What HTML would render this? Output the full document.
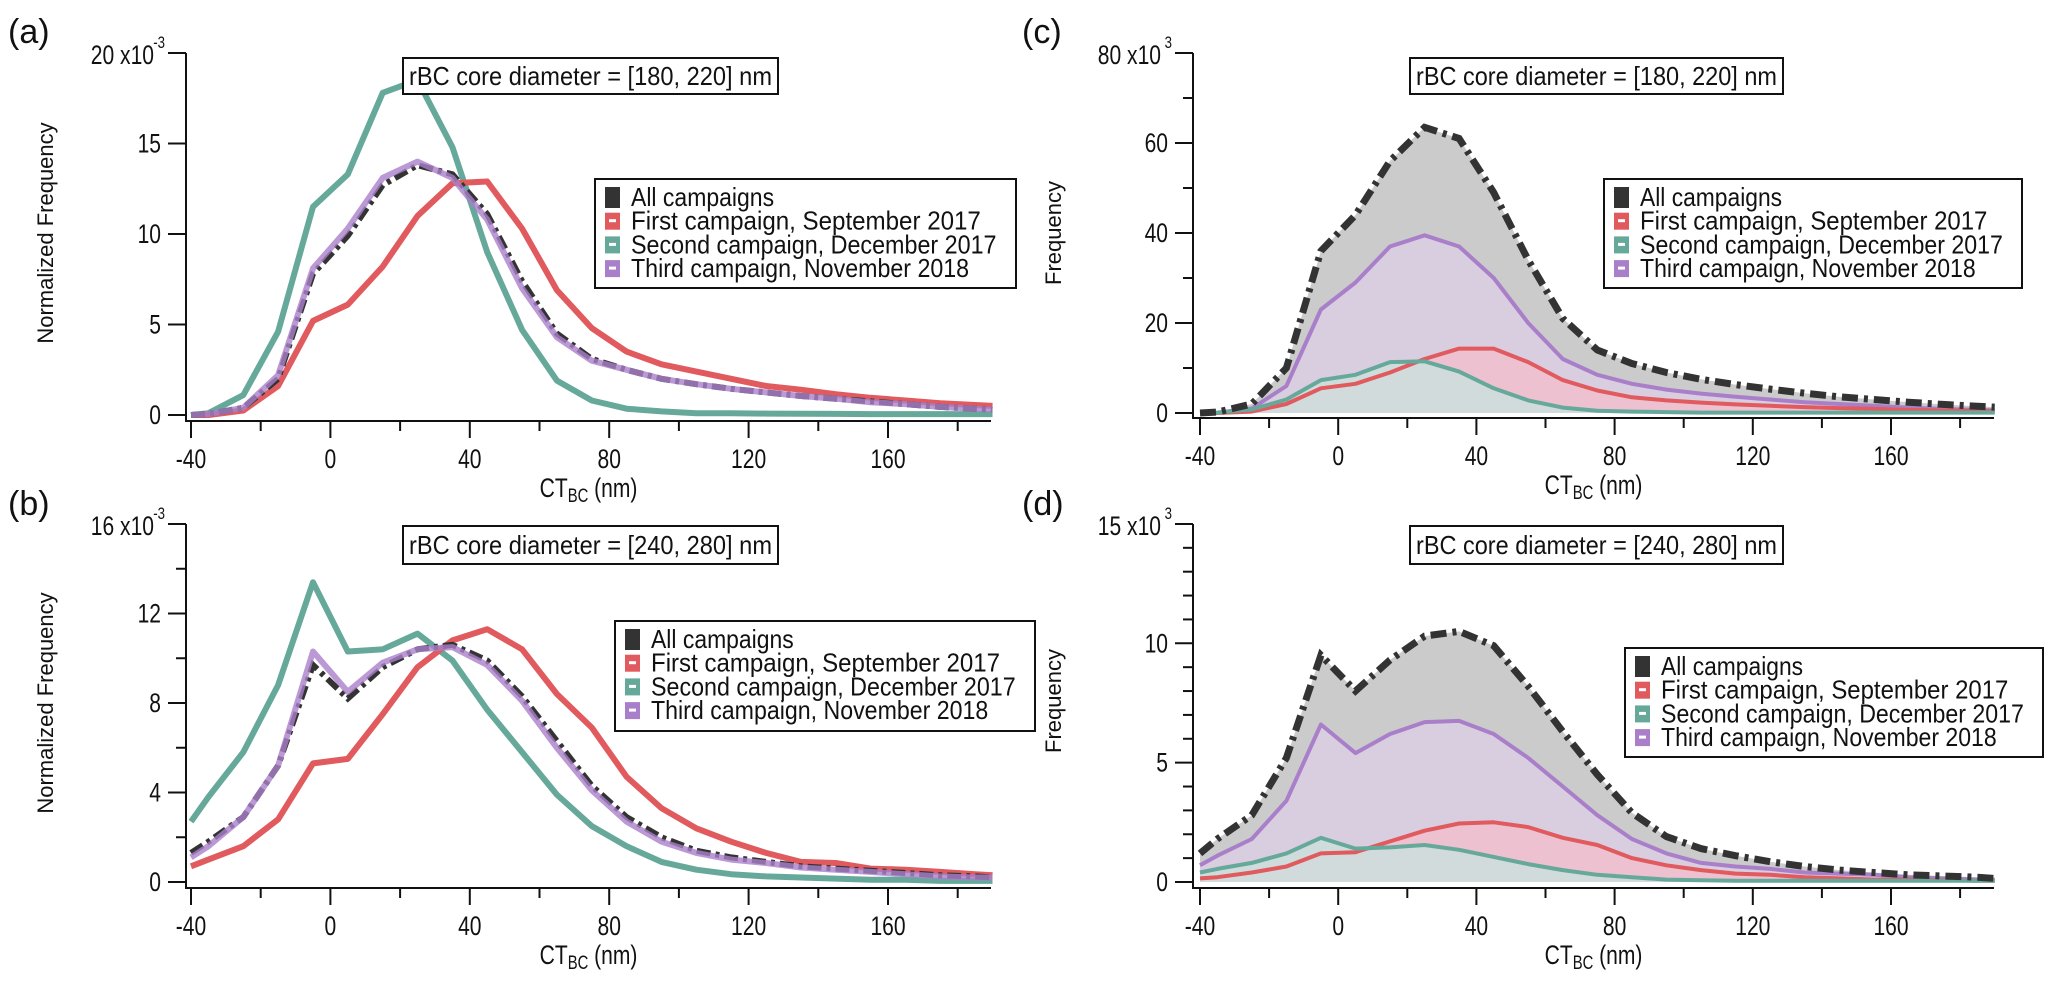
<!DOCTYPE html>
<html><head><meta charset="utf-8"><style>
html,body{margin:0;padding:0;background:#fff;}
svg{display:block;font-family:"Liberation Sans",sans-serif;}
</style></head><body>
<svg id="fig" width="2067" height="986" viewBox="0 0 2067 986" xmlns="http://www.w3.org/2000/svg"></svg>
<script>
const ctbc = [-40,-35,-25,-15,-5,5,15,25,35,45,55,65,75,85,95,105,115,125,135,145,155,165,175,185,190];
const xTicks = [-40,0,40,80,120,160];
const xMinor = [-20,20,60,100,140,180];
// panel a (x1e-3)
const aAll = [0,0.05,0.4,2.0,7.8,9.9,12.7,13.8,13.3,11.1,7.4,4.5,3.1,2.5,2.0,1.7,1.45,1.25,1.05,0.9,0.75,0.6,0.45,0.35,0.3];
const aFirst = [0,0,0.25,1.6,5.2,6.1,8.2,11.0,12.8,12.9,10.3,6.9,4.8,3.5,2.8,2.4,2.0,1.6,1.4,1.15,0.95,0.8,0.65,0.55,0.5];
const aSecond = [0,0.1,1.1,4.6,11.5,13.3,17.8,18.5,14.8,9.0,4.7,1.9,0.8,0.35,0.2,0.1,0.1,0.08,0.07,0.06,0.05,0.05,0.05,0.05,0.05];
const aThird = [0,0.05,0.4,2.2,8.1,10.3,13.1,14.0,13.1,10.8,7.0,4.3,3.0,2.5,2.0,1.7,1.45,1.25,1.05,0.9,0.7,0.6,0.45,0.35,0.3];
// panel b (x1e-3)
const bAll = [1.3,1.8,2.9,5.2,9.7,8.2,9.6,10.4,10.6,9.9,8.3,6.3,4.3,2.9,2.0,1.4,1.1,0.9,0.7,0.6,0.5,0.4,0.3,0.25,0.2];
const bFirst = [0.7,1.0,1.6,2.8,5.3,5.5,7.5,9.6,10.8,11.3,10.4,8.4,6.9,4.7,3.3,2.4,1.8,1.3,0.9,0.85,0.6,0.55,0.45,0.35,0.3];
const bSecond = [2.7,3.8,5.8,8.8,13.4,10.3,10.4,11.1,9.9,7.7,5.8,3.9,2.5,1.6,0.9,0.55,0.35,0.25,0.2,0.15,0.1,0.1,0.05,0.05,0.05];
const bThird = [1.1,1.6,2.9,5.2,10.3,8.5,9.8,10.4,10.5,9.7,8.1,6.0,4.1,2.7,1.8,1.3,1.0,0.85,0.65,0.55,0.45,0.35,0.25,0.2,0.2];
// panel c (x1e3)
const cAll = [0,0.2,2,10,36,44,56,63.5,61,49,34,21,14,11,9,7.5,6.3,5.3,4.4,3.6,3,2.4,1.9,1.5,1.3];
const cFirst = [0,0,0.3,2,5.5,6.5,9,12,14.3,14.3,11.3,7.3,5,3.5,2.8,2.3,1.9,1.6,1.3,1.1,0.9,0.7,0.55,0.45,0.4];
const cSecond = [0,0.1,0.8,3,7.3,8.5,11.3,11.5,9.2,5.5,2.8,1.2,0.5,0.3,0.2,0.1,0.1,0.1,0.1,0.1,0.1,0.1,0.1,0.1,0.1];
const cThird = [0,0.1,1,6,23,29,37,39.5,37,30,20,12,8.5,6.5,5.2,4.3,3.6,3.0,2.4,2,1.6,1.2,0.9,0.7,0.6];
// panel d (x1e3)
const dAll = [1.2,1.8,2.8,5.2,9.5,8.0,9.3,10.3,10.5,9.9,8.2,6.3,4.5,2.9,1.9,1.4,1.1,0.85,0.65,0.5,0.4,0.3,0.25,0.2,0.15];
const dFirst = [0.15,0.2,0.4,0.65,1.2,1.25,1.7,2.15,2.45,2.5,2.3,1.85,1.55,1.0,0.7,0.5,0.35,0.3,0.2,0.15,0.1,0.1,0.08,0.05,0.05];
const dSecond = [0.4,0.55,0.8,1.2,1.85,1.4,1.45,1.55,1.35,1.05,0.75,0.5,0.3,0.2,0.1,0.07,0.05,0.05,0.05,0.05,0.05,0.05,0.05,0.05,0.05];
const dThird = [0.7,1.1,1.8,3.4,6.6,5.4,6.2,6.7,6.75,6.2,5.2,4.0,2.8,1.8,1.2,0.8,0.65,0.55,0.4,0.35,0.3,0.2,0.15,0.1,0.1];
const legendLabels = ["All campaigns","First campaign, September 2017","Second campaign, December 2017","Third campaign, November 2018"];

const NS="http://www.w3.org/2000/svg";
const svg=document.getElementById('fig');
function mk(tag,attrs,parent){const e=document.createElementNS(NS,tag);for(const k in attrs)e.setAttribute(k,attrs[k]);(parent||svg).appendChild(e);return e;}

const COL={all:"#333333",first:"#e05a5e",second:"#66a99b",third:"#a97fca"};
const FILL={all:"#cbcbcb",first:"rgba(240,190,205,0.85)",second:"rgba(205,222,220,0.9)",third:"#d9cde0"};

const panels=[
 {id:"a",x0:191,xs:3.485,y0:415,ys:18.1,ymax:20,yMajor:[0,5,10,15],yMinor:[],topLbl:"20",exp:"-3",axisY:421,ylab:"Normalized Frequency",ylx:45,yly:233,
  series:{all:aAll,first:aFirst,second:aSecond,third:aThird},fill:false,title:"rBC core diameter = [180, 220] nm",tb:[403,58,375,36],lg:[595,179,421,109],pl:[8,43],axX:186,right:991},
 {id:"b",x0:191,xs:3.485,y0:882,ys:22.375,ymax:16,yMajor:[0,4,8,12],yMinor:[2,6,10,14],topLbl:"16",exp:"-3",axisY:888,ylab:"Normalized Frequency",ylx:45,yly:703,
  series:{all:bAll,first:bFirst,second:bSecond,third:bThird},fill:false,title:"rBC core diameter = [240, 280] nm",tb:[403,526,375,38],lg:[615,621,420,110],pl:[8,515],axX:186,right:991},
 {id:"c",x0:1200,xs:3.455,y0:413,ys:4.5,ymax:80,yMajor:[0,20,40,60],yMinor:[10,30,50,70],topLbl:"80",exp:"3",axisY:418,ylab:"Frequency",ylx:1053,yly:233,
  series:{all:cAll,first:cFirst,second:cSecond,third:cThird},fill:true,title:"rBC core diameter = [180, 220] nm",tb:[1410,58,373,36],lg:[1604,179,418,109],pl:[1022,43],axX:1193,right:1994},
 {id:"d",x0:1200,xs:3.455,y0:882,ys:23.87,ymax:15,yMajor:[0,5,10],yMinor:[1,2,3,4,6,7,8,9,11,12,13,14],topLbl:"15",exp:"3",axisY:888,ylab:"Frequency",ylx:1053,yly:701,
  series:{all:dAll,first:dFirst,second:dSecond,third:dThird},fill:true,title:"rBC core diameter = [240, 280] nm",tb:[1410,526,373,38],lg:[1625,648,418,109],pl:[1022,515],axX:1193,right:1994}
];

function narrowText(g,str,x,y,size,anchor,sx){
  const t=mk('text',{x:0,y:0,'font-size':size,'text-anchor':anchor||'start',transform:`translate(${x},${y}) scale(${sx||0.78},1)`,fill:'#111'},g);
  t.textContent=str;return t;
}

panels.forEach(p=>{
  const g=mk('g',{});
  
  
  const X=v=>p.x0+(v+40)*p.xs, Y=v=>p.y0-v*p.ys;
  const pl=mk('text',{x:p.pl[0],y:p.pl[1],'font-size':34,fill:'#111'},g);
  pl.textContent='('+p.id+')';
  
  
  const order=['all','third','first','second'];
  const plot=mk('g',{},g);
  
  
  const pts=arr=>arr.map((v,i)=>X(ctbc[i]).toFixed(1)+','+Y(v).toFixed(1)).join(' ');
  if(p.fill){
    order.forEach(k=>{
      const arr=p.series[k];
      const d='M'+X(ctbc[0])+','+Y(0)+' L'+pts(arr).split(' ').join(' L')+' L'+X(ctbc[ctbc.length-1])+','+Y(0)+' Z';
      const a=mk('path',{d:d,fill:FILL[k],stroke:'none'},plot);
      
      
    });
    ['third','first','second'].forEach(k=>{
      const l=mk('polyline',{points:pts(p.series[k]),fill:'none',stroke:COL[k],'stroke-width':4,'stroke-linejoin':'round'},plot);
      
      
    });
    const la=mk('polyline',{points:pts(p.series.all),fill:'none',stroke:COL.all,'stroke-width':7,'stroke-dasharray':'16,6,4,6'},plot);
    
    
  } else {
    ['second','first'].forEach(k=>{
      const l=mk('polyline',{points:pts(p.series[k]),fill:'none',stroke:COL[k],'stroke-width':6,'stroke-linejoin':'round'},plot);
      
      
    });
    const la=mk('polyline',{points:pts(p.series.all),fill:'none',stroke:COL.all,'stroke-width':6,'stroke-dasharray':'14,5,4,5'},plot);
    
    
    const lt=mk('polyline',{points:pts(p.series.third),fill:'none',stroke:COL.third,'stroke-width':6,'stroke-opacity':0.8,'stroke-linejoin':'round'},plot);
    
    
  }
  const ax=mk('g',{stroke:'#111','stroke-width':2},g);
  
  
  mk('line',{x1:p.axX,y1:Y(p.ymax),x2:p.axX,y2:p.axisY+1},ax);
  mk('line',{x1:p.axX,y1:p.axisY,x2:p.right,y2:p.axisY},ax);
  p.yMajor.concat([p.ymax]).forEach(v=>mk('line',{x1:p.axX-18,y1:Y(v),x2:p.axX,y2:Y(v)},ax));
  p.yMinor.forEach(v=>mk('line',{x1:p.axX-10,y1:Y(v),x2:p.axX,y2:Y(v)},ax));
  xTicks.forEach(v=>mk('line',{x1:X(v),y1:p.axisY,x2:X(v),y2:p.axisY+17},ax));
  xMinor.forEach(v=>mk('line',{x1:X(v),y1:p.axisY,x2:X(v),y2:p.axisY+10},ax));
  const tl=mk('g',{},g);
  
  
  p.yMajor.forEach(v=>narrowText(tl,String(v),p.axX-25,Y(v)+9,27,'end'));
  narrowText(tl,p.topLbl+' x10',p.axX-32,Y(p.ymax)+11,27,'end');
  narrowText(tl,p.exp,p.axX-21,Y(p.ymax)-5,17,'end');
  xTicks.forEach(v=>narrowText(tl,String(v),X(v),p.axisY+47,27,'middle'));
  const xl=mk('text',{x:0,y:0,'font-size':27,fill:'#111','text-anchor':'middle',transform:`translate(${(p.axX+p.right)/2},${p.axisY+76}) scale(0.78,1)`},g);
  
  
  xl.innerHTML='CT<tspan font-size="19" dy="5">BC</tspan><tspan dy="-5"> (nm)</tspan>';
  const yl=mk('text',{x:0,y:0,'font-size':22,fill:'#111','text-anchor':'middle',transform:`translate(${p.ylx+8},${p.yly}) rotate(-90)`},g);
  yl.textContent=p.ylab;
  
  
  const tb=mk('g',{},g);
  
  
  mk('rect',{x:p.tb[0],y:p.tb[1],width:p.tb[2],height:p.tb[3],fill:'#fff',stroke:'#111','stroke-width':2},tb);
  const tt=mk('text',{x:p.tb[0]+6,y:p.tb[1]+p.tb[3]/2+9,'font-size':26,fill:'#111',textLength:p.tb[2]-12,lengthAdjust:'spacingAndGlyphs'},tb);
  tt.textContent=p.title;
  const lg=mk('g',{},g);
  
  
  const L=p.lg;
  mk('rect',{x:L[0],y:L[1],width:L[2],height:L[3],fill:'#fff',stroke:'#111','stroke-width':2},lg);
  const keys=['all','first','second','third'];
  const widths=[146,357,373,345];
  keys.forEach((k,i)=>{
    const cy=L[1]+18+i*23.7;
    const e=mk('g',{},lg);
    
    
    if(k==='all'){
      mk('rect',{x:L[0]+10,y:cy-10,width:15,height:21,fill:'#333'},e);
    } else {
      mk('rect',{x:L[0]+10,y:cy-8,width:15,height:17,fill:COL[k]},e);
      mk('rect',{x:L[0]+14,y:cy-1.5,width:7,height:3,fill:'#fff'},e);
    }
    const t=mk('text',{x:L[0]+36,y:cy+9,'font-size':26,fill:'#111',textLength:widths[i]*(L[2]/421)*0.98,lengthAdjust:'spacingAndGlyphs'},e);
    t.textContent=legendLabels[i];
  });
});
</script>
</body></html>
